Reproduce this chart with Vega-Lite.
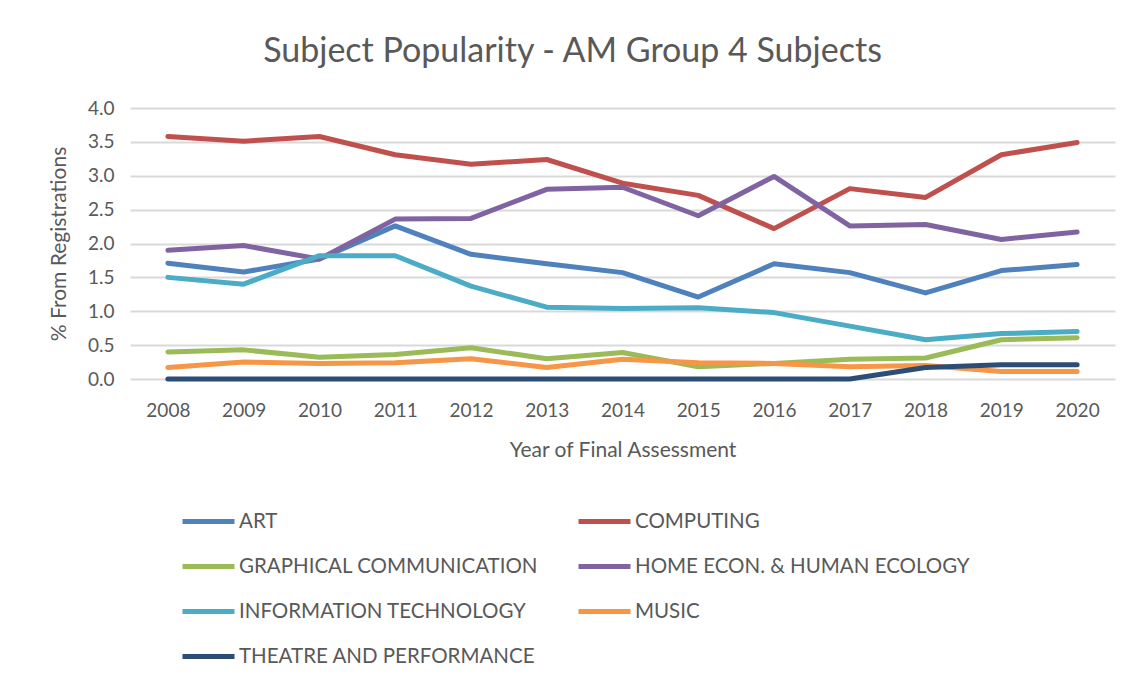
{
  "$schema": "https://vega.github.io/schema/vega-lite/v6.json",
  "width": 985,
  "height": 271,
  "autosize": {"type": "none"},
  "padding": {"left": 130, "top": 108, "right": 19, "bottom": 305},
  "background": "white",
  "title": {
    "text": "Subject Popularity - AM Group 4 Subjects",
    "fontSize": 34,
    "font": "Lato",
    "fontWeight": "normal",
    "color": "#595959",
    "anchor": "middle",
    "frame": "group",
    "dx": -50,
    "offset": 30
  },
  "data": {
    "values": [
      {"year": "2008", "subject": "ART", "value": 1.71},
      {"year": "2009", "subject": "ART", "value": 1.58},
      {"year": "2010", "subject": "ART", "value": 1.77},
      {"year": "2011", "subject": "ART", "value": 2.26},
      {"year": "2012", "subject": "ART", "value": 1.84},
      {"year": "2013", "subject": "ART", "value": 1.70},
      {"year": "2014", "subject": "ART", "value": 1.57},
      {"year": "2015", "subject": "ART", "value": 1.21},
      {"year": "2016", "subject": "ART", "value": 1.70},
      {"year": "2017", "subject": "ART", "value": 1.57},
      {"year": "2018", "subject": "ART", "value": 1.27},
      {"year": "2019", "subject": "ART", "value": 1.60},
      {"year": "2020", "subject": "ART", "value": 1.69},
      {"year": "2008", "subject": "COMPUTING", "value": 3.58},
      {"year": "2009", "subject": "COMPUTING", "value": 3.51},
      {"year": "2010", "subject": "COMPUTING", "value": 3.58},
      {"year": "2011", "subject": "COMPUTING", "value": 3.31},
      {"year": "2012", "subject": "COMPUTING", "value": 3.17},
      {"year": "2013", "subject": "COMPUTING", "value": 3.24},
      {"year": "2014", "subject": "COMPUTING", "value": 2.89},
      {"year": "2015", "subject": "COMPUTING", "value": 2.71},
      {"year": "2016", "subject": "COMPUTING", "value": 2.22},
      {"year": "2017", "subject": "COMPUTING", "value": 2.81},
      {"year": "2018", "subject": "COMPUTING", "value": 2.68},
      {"year": "2019", "subject": "COMPUTING", "value": 3.31},
      {"year": "2020", "subject": "COMPUTING", "value": 3.49},
      {"year": "2008", "subject": "GRAPHICAL COMMUNICATION", "value": 0.40},
      {"year": "2009", "subject": "GRAPHICAL COMMUNICATION", "value": 0.43},
      {"year": "2010", "subject": "GRAPHICAL COMMUNICATION", "value": 0.32},
      {"year": "2011", "subject": "GRAPHICAL COMMUNICATION", "value": 0.36},
      {"year": "2012", "subject": "GRAPHICAL COMMUNICATION", "value": 0.46},
      {"year": "2013", "subject": "GRAPHICAL COMMUNICATION", "value": 0.30},
      {"year": "2014", "subject": "GRAPHICAL COMMUNICATION", "value": 0.39},
      {"year": "2015", "subject": "GRAPHICAL COMMUNICATION", "value": 0.18},
      {"year": "2016", "subject": "GRAPHICAL COMMUNICATION", "value": 0.23},
      {"year": "2017", "subject": "GRAPHICAL COMMUNICATION", "value": 0.29},
      {"year": "2018", "subject": "GRAPHICAL COMMUNICATION", "value": 0.31},
      {"year": "2019", "subject": "GRAPHICAL COMMUNICATION", "value": 0.58},
      {"year": "2020", "subject": "GRAPHICAL COMMUNICATION", "value": 0.61},
      {"year": "2008", "subject": "HOME ECON. & HUMAN ECOLOGY", "value": 1.90},
      {"year": "2009", "subject": "HOME ECON. & HUMAN ECOLOGY", "value": 1.97},
      {"year": "2010", "subject": "HOME ECON. & HUMAN ECOLOGY", "value": 1.77},
      {"year": "2011", "subject": "HOME ECON. & HUMAN ECOLOGY", "value": 2.36},
      {"year": "2012", "subject": "HOME ECON. & HUMAN ECOLOGY", "value": 2.37},
      {"year": "2013", "subject": "HOME ECON. & HUMAN ECOLOGY", "value": 2.80},
      {"year": "2014", "subject": "HOME ECON. & HUMAN ECOLOGY", "value": 2.83},
      {"year": "2015", "subject": "HOME ECON. & HUMAN ECOLOGY", "value": 2.41},
      {"year": "2016", "subject": "HOME ECON. & HUMAN ECOLOGY", "value": 2.99},
      {"year": "2017", "subject": "HOME ECON. & HUMAN ECOLOGY", "value": 2.26},
      {"year": "2018", "subject": "HOME ECON. & HUMAN ECOLOGY", "value": 2.28},
      {"year": "2019", "subject": "HOME ECON. & HUMAN ECOLOGY", "value": 2.06},
      {"year": "2020", "subject": "HOME ECON. & HUMAN ECOLOGY", "value": 2.17},
      {"year": "2008", "subject": "INFORMATION TECHNOLOGY", "value": 1.50},
      {"year": "2009", "subject": "INFORMATION TECHNOLOGY", "value": 1.40},
      {"year": "2010", "subject": "INFORMATION TECHNOLOGY", "value": 1.82},
      {"year": "2011", "subject": "INFORMATION TECHNOLOGY", "value": 1.82},
      {"year": "2012", "subject": "INFORMATION TECHNOLOGY", "value": 1.37},
      {"year": "2013", "subject": "INFORMATION TECHNOLOGY", "value": 1.06},
      {"year": "2014", "subject": "INFORMATION TECHNOLOGY", "value": 1.04},
      {"year": "2015", "subject": "INFORMATION TECHNOLOGY", "value": 1.05},
      {"year": "2016", "subject": "INFORMATION TECHNOLOGY", "value": 0.98},
      {"year": "2017", "subject": "INFORMATION TECHNOLOGY", "value": 0.78},
      {"year": "2018", "subject": "INFORMATION TECHNOLOGY", "value": 0.58},
      {"year": "2019", "subject": "INFORMATION TECHNOLOGY", "value": 0.67},
      {"year": "2020", "subject": "INFORMATION TECHNOLOGY", "value": 0.70},
      {"year": "2008", "subject": "MUSIC", "value": 0.17},
      {"year": "2009", "subject": "MUSIC", "value": 0.25},
      {"year": "2010", "subject": "MUSIC", "value": 0.23},
      {"year": "2011", "subject": "MUSIC", "value": 0.24},
      {"year": "2012", "subject": "MUSIC", "value": 0.30},
      {"year": "2013", "subject": "MUSIC", "value": 0.17},
      {"year": "2014", "subject": "MUSIC", "value": 0.29},
      {"year": "2015", "subject": "MUSIC", "value": 0.24},
      {"year": "2016", "subject": "MUSIC", "value": 0.23},
      {"year": "2017", "subject": "MUSIC", "value": 0.18},
      {"year": "2018", "subject": "MUSIC", "value": 0.20},
      {"year": "2019", "subject": "MUSIC", "value": 0.11},
      {"year": "2020", "subject": "MUSIC", "value": 0.11},
      {"year": "2008", "subject": "THEATRE AND PERFORMANCE", "value": 0.0},
      {"year": "2009", "subject": "THEATRE AND PERFORMANCE", "value": 0.0},
      {"year": "2010", "subject": "THEATRE AND PERFORMANCE", "value": 0.0},
      {"year": "2011", "subject": "THEATRE AND PERFORMANCE", "value": 0.0},
      {"year": "2012", "subject": "THEATRE AND PERFORMANCE", "value": 0.0},
      {"year": "2013", "subject": "THEATRE AND PERFORMANCE", "value": 0.0},
      {"year": "2014", "subject": "THEATRE AND PERFORMANCE", "value": 0.0},
      {"year": "2015", "subject": "THEATRE AND PERFORMANCE", "value": 0.0},
      {"year": "2016", "subject": "THEATRE AND PERFORMANCE", "value": 0.0},
      {"year": "2017", "subject": "THEATRE AND PERFORMANCE", "value": 0.0},
      {"year": "2018", "subject": "THEATRE AND PERFORMANCE", "value": 0.17},
      {"year": "2019", "subject": "THEATRE AND PERFORMANCE", "value": 0.21},
      {"year": "2020", "subject": "THEATRE AND PERFORMANCE", "value": 0.21}
    ]
  },
  "mark": {"type": "line", "strokeWidth": 5, "strokeCap": "round", "strokeJoin": "round"},
  "encoding": {
    "x": {
      "field": "year",
      "type": "ordinal",
      "scale": {"type": "point", "padding": 0.5},
      "axis": {
        "title": "Year of Final Assessment",
        "labelAngle": 0,
        "labelFontSize": 19,
        "labelFont": "Lato",
        "labelColor": "#595959",
        "labelPadding": 22,
        "titleFontSize": 21,
        "titleFont": "Lato",
        "titleFontWeight": "normal",
        "titleColor": "#595959",
        "titlePadding": 19,
        "ticks": false,
        "domain": false,
        "grid": false
      }
    },
    "y": {
      "field": "value",
      "type": "quantitative",
      "scale": {"domain": [0, 4], "nice": false},
      "axis": {
        "title": "% From Registrations",
        "values": [0, 0.5, 1, 1.5, 2, 2.5, 3, 3.5, 4],
        "format": ".1f",
        "labelFontSize": 19,
        "labelFont": "Lato",
        "labelColor": "#595959",
        "labelPadding": 16,
        "titleFontSize": 21,
        "titleFont": "Lato",
        "titleFontWeight": "normal",
        "titleColor": "#595959",
        "titlePadding": 18,
        "ticks": false,
        "domain": false,
        "grid": true,
        "gridColor": "#D9D9D9",
        "gridWidth": 2
      }
    },
    "color": {
      "field": "subject",
      "type": "nominal",
      "scale": {
        "domain": ["ART", "COMPUTING", "GRAPHICAL COMMUNICATION", "HOME ECON. & HUMAN ECOLOGY", "INFORMATION TECHNOLOGY", "MUSIC", "THEATRE AND PERFORMANCE"],
        "range": ["#4F81BD", "#C0504D", "#9BBB59", "#8064A2", "#4BACC6", "#F79646", "#2C4D75"]
      },
      "legend": {
        "title": null,
        "orient": "none",
        "direction": "horizontal",
        "legendX": 50,
        "legendY": 385,
        "columns": 2,
        "columnPadding": 29,
        "rowPadding": 6,
        "symbolType": "stroke",
        "symbolSize": 2704,
        "symbolStrokeWidth": 5,
        "labelFontSize": 20.5,
        "labelFont": "Lato",
        "labelColor": "#595959",
        "labelOffset": 2,
        "labelLimit": 400
      }
    }
  },
  "config": {"view": {"stroke": null}}
}
